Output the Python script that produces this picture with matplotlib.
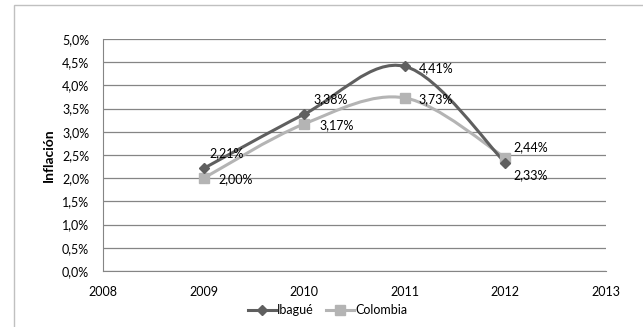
import matplotlib.pyplot as plt
from matplotlib.path import Path
from matplotlib.patches import PathPatch, Rectangle
from matplotlib.lines import Line2D
from matplotlib.ticker import FuncFormatter

years = [2009, 2010, 2011, 2012]
ibague = [2.21, 3.38, 4.41, 2.33]
colombia = [2.00, 3.17, 3.73, 2.44]
ibague_labels = ["2,21%", "3,38%", "4,41%", "2,33%"]
colombia_labels = ["2,00%", "3,17%", "3,73%", "2,44%"]
xticks = [2008, 2009, 2010, 2011, 2012, 2013]

plt.rcParams['font.family'] = ['Lato', 'DejaVu Sans']
dark = "#5f5f5f"
light = "#b4b4b4"
fs = 9


def smooth_path(xs, ys):
    # excel-like smoothed line: catmull-rom segments as cubic beziers
    pts = list(zip(xs, ys))
    verts = [pts[0]]
    codes = [Path.MOVETO]
    n = len(pts)
    for i in range(n - 1):
        p0 = pts[i - 1] if i > 0 else pts[i]
        p1 = pts[i]
        p2 = pts[i + 1]
        p3 = pts[i + 2] if i + 2 < n else pts[i + 1]
        c1 = (p1[0] + (p2[0] - p0[0]) / 6, p1[1] + (p2[1] - p0[1]) / 6)
        c2 = (p2[0] - (p3[0] - p1[0]) / 6, p2[1] - (p3[1] - p1[1]) / 6)
        verts += [c1, c2, p2]
        codes += [Path.CURVE4] * 3
    return Path(verts, codes)


fig = plt.figure(figsize=(6.43, 3.27), dpi=100)
fig.patches.append(Rectangle((14 / 643, -0.1), 1.0, 1.1 - 5 / 327,
                             transform=fig.transFigure, fill=False,
                             edgecolor="#c0c0c0", linewidth=1))
ax = fig.add_axes([103 / 643, 1 - 271 / 327, 503 / 643, 232 / 327])

ax.set_xlim(2008, 2013)
ax.set_ylim(0, 5)
ax.set_yticks([i * 0.5 for i in range(11)])
ax.set_xticks(xticks)
ax.yaxis.set_major_formatter(FuncFormatter(lambda v, p: f"{v:.1f}%".replace(".", ",")))
ax.grid(axis="y", color="#858585", linewidth=0.9)
ax.set_axisbelow(True)
for s in ["top", "right"]:
    ax.spines[s].set_visible(False)
ax.spines["left"].set_color("#858585")
ax.spines["bottom"].set_color("#858585")
ax.tick_params(length=0, labelsize=fs, colors="black")
ax.tick_params(axis="y", pad=10)
ax.tick_params(axis="x", pad=11)

ax.add_patch(PathPatch(smooth_path(years, colombia), fill=False, edgecolor=light, linewidth=2.2))
ax.add_patch(PathPatch(smooth_path(years, ibague), fill=False, edgecolor=dark, linewidth=2.2))
ax.plot(years, colombia, linestyle="none", marker="s", markersize=7.5, color=light)
ax.plot(years, ibague, linestyle="none", marker="D", markersize=5.5, color=dark)

ib_off = [(4, 11), (7, 11), (10, -1), (6, -9)]
co_off = [(11, -1), (11, -1), (10, -1), (6, 8)]
for x, y, t, o in zip(years, ibague, ibague_labels, ib_off):
    ax.annotate(t, (x, y), xytext=o, textcoords="offset points", fontsize=fs, va="center")
for x, y, t, o in zip(years, colombia, colombia_labels, co_off):
    ax.annotate(t, (x, y), xytext=o, textcoords="offset points", fontsize=fs, va="center")

ax.set_ylabel("Inflación", fontsize=10, fontweight="bold", labelpad=5)

handles = [Line2D([], [], color=dark, linewidth=2.2, marker="D", markersize=5.5),
           Line2D([], [], color=light, linewidth=2.2, marker="s", markersize=7.5)]
fig.legend(handles, ["Ibagué", "Colombia"], loc="center", bbox_to_anchor=(0.51, 1 - 310 / 327),
           ncol=2, frameon=False, fontsize=fs, handlelength=2.2, handletextpad=0.1,
           columnspacing=1.0)

fig.savefig("out.png", dpi=100)
